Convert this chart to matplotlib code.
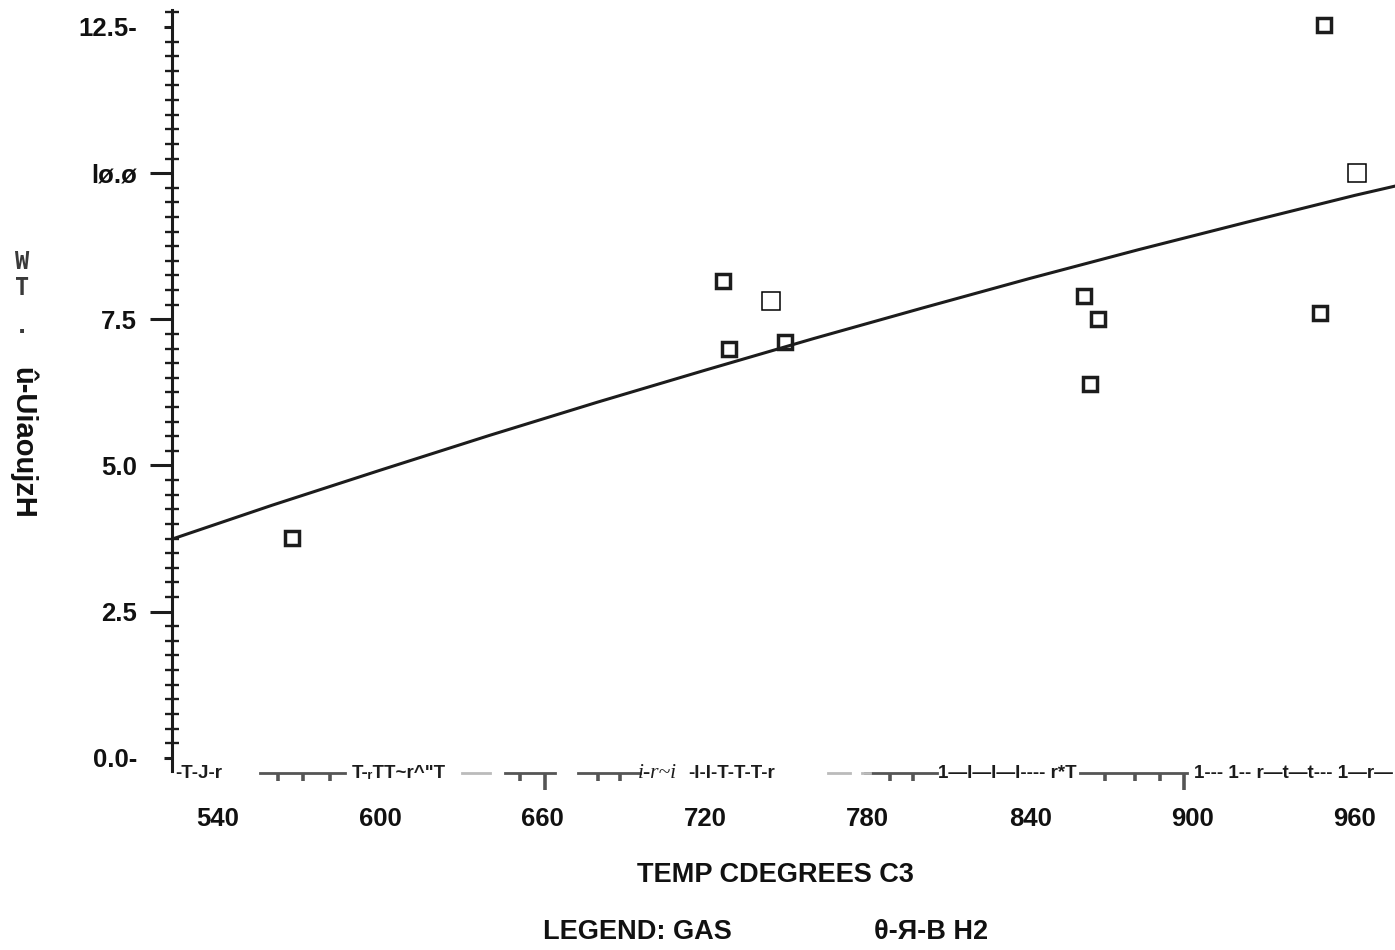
import matplotlib
matplotlib.use("Agg")
from matplotlib import pyplot as plt
from matplotlib.ticker import MultipleLocator

plt.rcParams['font.family'] = ['Liberation Sans', 'DejaVu Sans']
plt.rcParams['font.weight'] = 'bold'

# measured gas samples (heavy squares)
temp = [567.5, 726.7, 728.8, 749.3, 860.0, 862.3, 865.0, 947.1, 948.5]
wt = [3.76, 8.15, 6.99, 7.11, 7.89, 6.40, 7.50, 7.60, 12.53]

# two added points (thin squares)
temp_extra = [744.2, 960.9]
wt_extra = [7.82, 10.01]

# fitted trend curve, read along its length
fit_temp = [523, 560, 600, 640, 680, 720, 760, 800, 840, 880, 920, 960, 975]
fit_wt = [3.74, 4.32, 4.92, 5.51, 6.08, 6.63, 7.17, 7.69, 8.20, 8.69, 9.16, 9.62, 9.78]

xticks = [540, 600, 660, 720, 780, 840, 900, 960]
yticks = [0.0, 2.5, 5.0, 7.5, 10.0, 12.5]
ylabels = ['0.0-', '2.5', '5.0', '7.5', 'lø.ø', '12.5-']

# the printed x axis only survives as broken fragments
row_text = [
    (524.1, '-T-J-r', 'normal', 'left'),
    (589.5, 'T-ᵣTT~r^"T', 'normal', 'left'),
    (695.2, 'i-r~i', 'italic', 'left'),
    (713.6, '-I-I-T-T-T-r', 'normal', 'left'),
    (806.0, '1—I—I—I---- r*T', 'normal', 'left'),
    (974.0, '1--- 1-- r—t—t--- 1—r—', 'normal', 'right'),
]
row_dashes = [(555.5, 586.9), (646.0, 664.5), (673.0, 695.9),
              (779.0, 805.6), (858.4, 898.0)]
row_faint = [(630.1, 640.5), (765.3, 773.5), (778.0, 781.0)]
row_ticks = [562.2, 571.4, 581.4, 651.6, 680.4, 688.5, 788.2, 796.7,
             867.7, 878.8, 888.0]
row_long_ticks = [660.8, 897.0]

ink = '#1c1c1c'


def fx(px):
    return px / 1395


def fy(py):
    return 1 - py / 950


fig = plt.figure(figsize=(13.95, 9.5), dpi=100)
ax = fig.add_axes([fx(172), 179 / 950, 1223 / 1395, 761 / 950])

ax.plot(fit_temp, fit_wt, color=ink, lw=2.2, solid_capstyle='round', zorder=2)
ax.plot(temp, wt, ls='none', marker='s', ms=10.5, mfc='none', mec=ink,
        mew=2.5, zorder=3)
ax.plot(temp_extra, wt_extra, ls='none', marker='s', ms=12.5, mfc='white',
        mec='black', mew=1.1, zorder=3)

ax.set_xlim(523, 974.8)
ax.set_ylim(-0.226, 12.79)

for side in ['top', 'right', 'bottom']:
    ax.spines[side].set_visible(False)
ax.spines['left'].set_linewidth(2.2)
ax.spines['left'].set_color(ink)

ax.set_yticks(yticks)
ax.set_yticklabels(ylabels)
ax.yaxis.set_minor_locator(MultipleLocator(0.25))
ax.tick_params(axis='y', which='major', direction='out', length=16, width=2.2,
               color=ink, pad=9, labelsize=18.5, labelcolor='#111')
ax.tick_params(axis='y', which='minor', direction='inout', length=10,
               width=1.7, color=ink)
ends = ax.yaxis.get_major_ticks()
for t in (ends[0], ends[-1]):
    t.tick1line.set_markersize(6)

ax.set_xticks(xticks)
ax.tick_params(axis='x', length=0, pad=26, labelsize=18.5, labelcolor='#111')

# broken x axis row
tr = ax.get_xaxis_transform()
row_y = -0.003
for x0, s, style, align in row_text:
    if style == 'italic':
        ax.text(x0, row_y, s, transform=tr, ha=align, va='center',
                family=['Liberation Serif', 'DejaVu Serif'], style='italic',
                weight='normal', size=15.5, color=ink, clip_on=False)
    else:
        ax.text(x0, row_y, s, transform=tr, ha=align, va='center',
                size=13.5, color=ink, clip_on=False)
for a, b in row_dashes:
    ax.plot([a, b], [row_y, row_y], transform=tr, color='#555', lw=2.0,
            clip_on=False)
for a, b in row_faint:
    ax.plot([a, b], [row_y, row_y], transform=tr, color='#bbb', lw=2.0,
            clip_on=False)
ax.vlines(row_ticks, row_y - 0.010, row_y, transform=tr, color='#555',
          lw=2.6, clip_on=False)
ax.vlines(row_long_ticks, row_y - 0.022, row_y, transform=tr, color='#555',
          lw=2.6, clip_on=False)

# axis titles and legend line
fig.text(fx(775), fy(875), 'TEMP CDEGREES C3', ha='center', va='center',
         size=19.5, color='#111')
fig.text(fx(637), fy(932), 'LEGEND: GAS', ha='center', va='center',
         size=19.5, color='#111')
fig.text(fx(931), fy(932), 'θ-Я-B H2', ha='center', va='center',
         size=19.5, color='#111')

mono = ['DejaVu Sans Mono']
fig.text(fx(22), fy(262), 'W', family=mono, size=17, color='#3a3a3a',
         ha='center', va='center')
fig.text(fx(22), fy(288), 'T', family=mono, size=17, color='#3a3a3a',
         ha='center', va='center')
fig.text(fx(22), fy(326), '.', family=mono, size=17, color='#3a3a3a',
         ha='center', va='center')
fig.text(fx(22), fy(443), 'û-UiaoujzH', rotation=-90, size=21, color='#111',
         ha='center', va='center')

fig.savefig('out.png', dpi=100)
